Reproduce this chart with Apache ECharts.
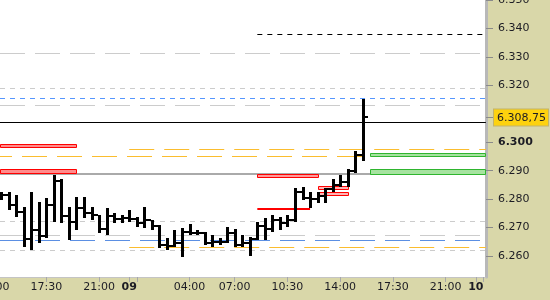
<!DOCTYPE html>
<html><head><meta charset="utf-8">
<script src="https://cdn.jsdelivr.net/npm/echarts@6/dist/echarts.min.js"></script>
<style>html,body{margin:0;padding:0;background:#d9d7a9}#c{width:550px;height:300px}</style>
</head><body><div id="c"></div>
<script>
// ---- bar data (30-minute OHLC) ----
const barTimes = ['08 14:30','08 15:00','08 15:30','08 16:00','08 16:30','08 17:00','08 17:30','08 18:00','08 18:30','08 19:00','08 19:30','08 20:00','08 20:30','08 21:00','08 21:30','08 22:00','08 22:30',
  '09 00:00','09 00:30','09 01:00','09 01:30','09 02:00','09 02:30','09 03:00','09 03:30','09 04:00','09 04:30','09 05:00','09 05:30','09 06:00','09 06:30','09 07:00','09 07:30','09 08:00','09 08:30','09 09:00','09 09:30','09 10:00','09 10:30','09 11:00','09 11:30','09 12:00','09 12:30','09 13:00','09 13:30','09 14:00','09 14:30','09 15:00','09 15:30'];
const opens  = [6281.0,6281.5,6278.0,6275.5,6266.0,6269.0,6267.0,6278.0,6286.5,6274.0,6272.0,6277.0,6275.0,6274.5,6269.5,6274.0,6273.0,6273.5,6273.0,6271.5,6272.5,6270.5,6264.0,6263.5,6264.5,6268.5,6268.0,6268.0,6264.5,6265.0,6265.0,6268.0,6264.0,6264.5,6266.0,6270.5,6269.5,6272.5,6271.5,6272.5,6282.5,6280.5,6280.0,6281.0,6283.5,6285.0,6286.0,6290.0,6295.5];
const highs  = [6282.5,6282.5,6281.5,6277.25,6282.5,6279.0,6280.25,6288.5,6287.25,6277.25,6280.75,6280.75,6277.25,6274.5,6276.75,6275.0,6274.5,6276.25,6273.75,6277.25,6272.75,6271.0,6266.25,6269.25,6269.75,6271.25,6269.25,6268.5,6267.5,6266.25,6270.25,6269.5,6267.5,6266.5,6272.0,6273.25,6274.5,6273.75,6274.5,6283.75,6284.25,6282.5,6282.5,6283.75,6287.25,6288.5,6290.75,6297.0,6315.25];
const lows   = [6279.75,6276.25,6273.75,6263.25,6262.0,6264.5,6266.25,6272.0,6271.5,6265.5,6269.25,6273.25,6272.75,6268.0,6267.25,6271.5,6271.5,6272.0,6270.25,6269.75,6269.25,6262.75,6262.0,6263.25,6259.75,6267.5,6267.5,6263.75,6263.25,6263.75,6264.5,6263.25,6263.25,6260.0,6265.5,6265.5,6268.5,6269.25,6270.25,6272.0,6279.75,6276.75,6278.5,6278.5,6282.5,6284.25,6284.25,6289.25,6293.25];
const closes = [6281.5,6278.0,6275.5,6266.0,6269.0,6267.0,6278.0,6286.5,6274.0,6272.0,6277.0,6275.0,6274.5,6269.5,6274.0,6273.0,6273.5,6273.0,6271.5,6272.5,6270.5,6264.0,6263.5,6264.5,6268.5,6268.0,6268.0,6264.5,6265.0,6265.0,6268.0,6264.0,6264.5,6266.0,6270.5,6269.5,6272.5,6271.5,6272.5,6282.5,6280.5,6280.0,6281.0,6283.5,6285.0,6286.0,6290.0,6295.5,6308.75];
const lastPrice = 6308.75;

// ---- axes ----
const yTickValues = [6260,6270,6280,6290,6300,6320,6330,6340,6350];
const xTickTimes  = ['08 14:00','08 17:30','08 21:00','09 00:00','09 04:00','09 07:00','09 10:30','09 14:00','09 17:30','09 21:00','10 00:00'];
const xTickLabels = ['14:00','17:30','21:00','09','04:00','07:00','10:30','14:00','17:30','21:00','10'];
const xExtraTicks = ['09 00:30','10 00:30'];
const viewStart = '08 14:00';
const viewEnd   = '10 00:40';

// ---- horizontal levels ----
const grayLongDashLevels  = [6331.5, 6313.25, 6267.5];
const grayShortDashLevels = [6319.25, 6272.25, 6262.25];
const blueShortDashLevels = [6315.5];
const blueLongDashLevels  = [6265.75];
const orangePrevLevels    = [6295.0];
const orangeDayLevels     = [6297.75, 6263.0];
const blackSolidLevels    = [6307.25];
const graySolidLevels     = [6289.0];
const blackDashLevels     = [6338.25];
const redLineLevels       = [6276.5];
// ---- zones [top, bottom] ----
const redZonesPrev   = [[6299.5, 6298.25], [6290.5, 6289.25]];
const redZoneMorning = [[6288.75, 6287.75]];
const redZonesMidday = [[6284.75, 6283.5], [6282.5, 6281.5]];
const greenZones     = [[6296.25, 6295.0], [6290.75, 6289.0]];

// trading-time scale: the 23:00-24:00 break is removed
function tradingHour(t) {
  const [d, hm] = t.split(' ');
  const [h, m] = hm.split(':').map(Number);
  const dayOffset = { '08': 0, '09': 23, '10': 46 }[d];
  return dayOffset + h + m / 60;
}
const xMin = tradingHour(viewStart);
function fmtPrice(v) {
  const i = Math.floor(v + 1e-9);
  const frac = Math.round((v - i) * 100);
  const s = String(i);
  const t = s.slice(0, s.length - 3) + '.' + s.slice(-3);
  return frac ? t + ',' + String(frac).padStart(2, '0') : t;
}

const chart = echarts.init(document.getElementById('c'), null, { renderer: 'canvas' });
const FONT = 'DejaVu Sans';

function levelSeries(levels, from, to, style) {
  const a = tradingHour(from), b = tradingHour(to);
  return {
    type: 'custom', clip: true, silent: true,
    encode: { x: [0, 1], y: 2 },
    data: levels.map(v => [a, b, v]),
    renderItem(params, api) {
      const p = api.coord([api.value(0), api.value(2)]);
      const q = api.coord([api.value(1), api.value(2)]);
      const cs = params.coordSys;
      const x1 = Math.max(p[0], 0, cs.x), x2 = Math.min(q[0], cs.x + cs.width);
      const y = Math.round(p[1]) + ((style.lineWidth % 2) ? 0.5 : 0);
      return { type: 'line', shape: { x1, y1: y, x2, y2: y },
        style: { stroke: style.color, lineWidth: style.lineWidth, lineDash: style.dash || null, lineDashOffset: style.offset || 0 } };
    }
  };
}
function zoneSeries(zones, from, to, style) {
  const a = tradingHour(from), b = tradingHour(to);
  return {
    type: 'custom', clip: true, silent: true,
    encode: { x: [0, 1], y: [2, 3] },
    data: zones.map(z => [a, b, z[0], z[1]]),
    renderItem(params, api) {
      const p = api.coord([api.value(0), api.value(2)]);
      const q = api.coord([api.value(1), api.value(3)]);
      const cs = params.coordSys;
      const x1 = Math.round(Math.max(p[0], 0, cs.x)) + 0.5;
      const x2 = Math.round(Math.min(q[0], cs.x + cs.width - 1)) + 0.5;
      const y1 = Math.round(p[1]) + 0.5, y2 = Math.round(q[1]) + 0.5;
      return { type: 'rect', shape: { x: x1, y: y1, width: x2 - x1, height: y2 - y1 },
        style: { fill: style.fill, stroke: style.stroke, lineWidth: 1 } };
    }
  };
}

const END = viewEnd;
const series = [
  levelSeries(grayLongDashLevels, viewStart, END, { color: '#cccccc', lineWidth: 1, dash: [25, 10] }),
  levelSeries(grayShortDashLevels, viewStart, END, { color: '#cccccc', lineWidth: 1, dash: [5, 5] }),
  levelSeries(blueShortDashLevels, viewStart, END, { color: '#5596ff', lineWidth: 1, dash: [5, 5] }),
  levelSeries(blueLongDashLevels, viewStart, END, { color: '#5b8fe3', lineWidth: 1, dash: [25, 10] }),
  levelSeries(orangePrevLevels, viewStart, END, { color: '#fbbd2e', lineWidth: 1, dash: [25, 10], offset: 13 }),
  levelSeries(orangeDayLevels, '09 00:00', END, { color: '#fbbd2e', lineWidth: 1, dash: [25, 10] }),
  levelSeries(blackSolidLevels, viewStart, END, { color: '#000000', lineWidth: 1 }),
  levelSeries(graySolidLevels, viewStart, END, { color: '#aaaaaa', lineWidth: 2 }),
  levelSeries(blackDashLevels, '09 08:30', END, { color: '#000000', lineWidth: 1, dash: [5, 5] }),
  zoneSeries(redZonesPrev, viewStart, '08 19:30', { fill: '#ff8c8c', stroke: '#ff0000' }),
  zoneSeries(redZoneMorning, '09 08:30', '09 12:30', { fill: '#ff9a9a', stroke: '#ff0000' }),
  zoneSeries(redZonesMidday, '09 12:30', '09 14:30', { fill: '#ffb4b4', stroke: '#ff0000' }),
  zoneSeries(greenZones, '09 16:00', END, { fill: '#a6e3a0', stroke: '#2fb52f' }),
  levelSeries(redLineLevels, '09 08:30', '09 12:00', { color: '#ff0000', lineWidth: 2 }),
  {
    type: 'custom', clip: true,
    encode: { x: 0, y: [1, 2, 3, 4] },
    data: barTimes.map((t, i) => [tradingHour(t), opens[i], highs[i], lows[i], closes[i]]),
    renderItem(params, api) {
      const x = api.value(0);
      const o = api.coord([x, api.value(1)]);
      const h = api.coord([x, api.value(2)]);
      const l = api.coord([x, api.value(3)]);
      const c = api.coord([x, api.value(4)]);
      const cx = Math.round(h[0]);
      return { type: 'group', children: [
        { type: 'rect', shape: { x: cx - 1, y: Math.round(h[1]), width: 3, height: Math.max(1, Math.round(l[1]) - Math.round(h[1])) }, style: { fill: '#000' } },
        { type: 'rect', shape: { x: cx - 4, y: Math.round(o[1]) - 1, width: 3, height: 2 }, style: { fill: '#000' } },
        { type: 'rect', shape: { x: cx + 2, y: Math.round(c[1]) - 1, width: 3, height: 2 }, style: { fill: '#000' } }
      ] };
    }
  }
];

chart.setOption({
  backgroundColor: '#d9d7a9',
  animation: false,
  grid: { left: -6.4, right: 64, top: 0, bottom: 23, show: true, backgroundColor: '#ffffff', borderWidth: 0,
    containLabel: false, outerBoundsMode: 'none' },
  xAxis: {
    type: 'value', min: xMin, max: 46.674, position: 'bottom',
    splitLine: { show: false },
    axisLine: { show: true, lineStyle: { color: '#c4c4c4', width: 1 } },
    axisTick: { show: true, length: 5, lineStyle: { color: '#a8a8a8' },
      customValues: xTickTimes.concat(xExtraTicks).map(tradingHour) },
    axisLabel: {
      customValues: xTickTimes.map(tradingHour), margin: 5,
      fontFamily: FONT, fontSize: 11, color: '#1c1c24',
      formatter: v => {
        const i = xTickTimes.map(tradingHour).findIndex(t => Math.abs(t - v) < 1e-6);
        const s = xTickLabels[i];
        return s.length === 2 ? '{b|' + s + '}' : s;
      },
      rich: { b: { fontFamily: FONT, fontSize: 11, fontWeight: 'bold', color: '#1c1c24' } }
    }
  },
  yAxis: {
    type: 'value', position: 'right', min: 6252.6, max: 6350.05, scale: true,
    splitLine: { show: false },
    axisLine: { show: true, lineStyle: { color: '#b8b8b8', width: 3 } },
    axisTick: { show: true, length: 7, lineStyle: { color: '#8a8a8a' },
      customValues: yTickValues.concat([lastPrice]) },
    axisLabel: {
      customValues: yTickValues.concat([lastPrice]), margin: 8,
      fontFamily: FONT, fontSize: 11, color: '#1c1c24',
      formatter: v => {
        if (Math.abs(v - lastPrice) < 1e-6) return '{cur|' + fmtPrice(v) + '}';
        if (v === 6300) return '{b|' + fmtPrice(v) + '}';
        return '{n|' + fmtPrice(v) + '}';
      },
      rich: {
        n: { fontFamily: FONT, fontSize: 11, color: '#1c1c24', padding: [0, 0, 0, 4] },
        b: { fontFamily: FONT, fontSize: 11, fontWeight: 'bold', color: '#1c1c24', padding: [0, 0, 0, 4] },
        cur: { fontFamily: FONT, fontSize: 11, color: '#1c1c24', lineHeight: 12,
          backgroundColor: '#fdd20e', borderColor: '#c2b46a', borderWidth: 1, padding: [3, 2, 2, 3] }
      }
    }
  },
  series
});
</script></body></html>
